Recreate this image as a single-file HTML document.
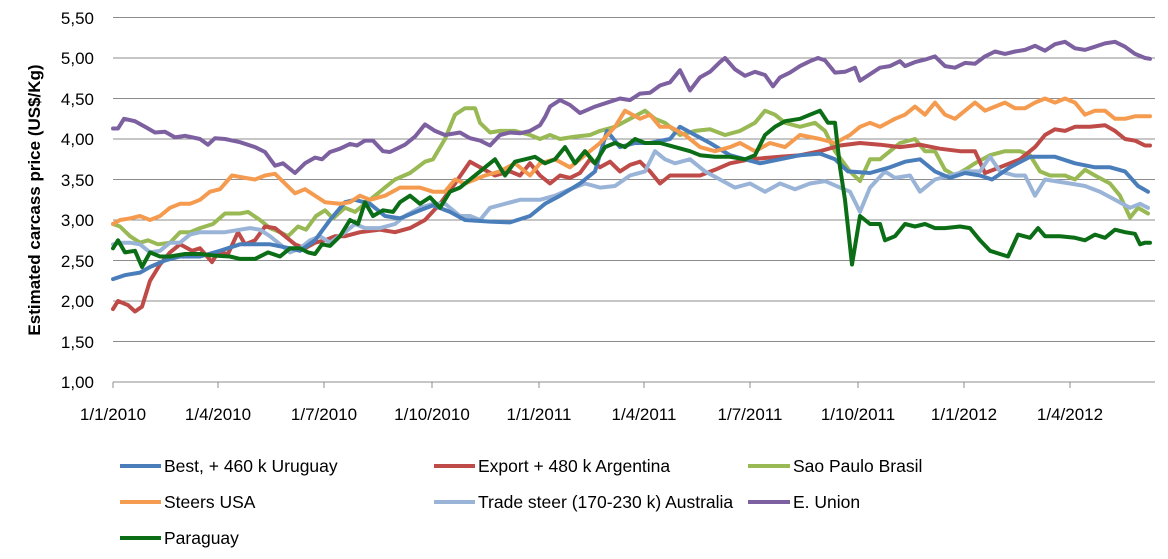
<!DOCTYPE html>
<html><head><meta charset="utf-8"><style>
body{margin:0;background:#fff;}
svg{display:block;font-family:"Liberation Sans",sans-serif;}
</style></head><body>
<svg id="c" width="1168" height="559" xmlns="http://www.w3.org/2000/svg">
<g stroke="#8c8c8c" stroke-width="1">
<line x1="113" y1="17.5" x2="1155" y2="17.5"/><line x1="113" y1="58" x2="1155" y2="58"/>
<line x1="113" y1="98.5" x2="1155" y2="98.5"/><line x1="113" y1="139" x2="1155" y2="139"/>
<line x1="113" y1="179.5" x2="1155" y2="179.5"/><line x1="113" y1="220" x2="1155" y2="220"/>
<line x1="113" y1="260.5" x2="1155" y2="260.5"/><line x1="113" y1="301" x2="1155" y2="301"/>
<line x1="113" y1="341.5" x2="1155" y2="341.5"/><line x1="113" y1="382" x2="1155" y2="382"/>
<line x1="113" y1="382" x2="113" y2="388"/><line x1="218" y1="382" x2="218" y2="388"/>
<line x1="324" y1="382" x2="324" y2="388"/><line x1="432" y1="382" x2="432" y2="388"/>
<line x1="539" y1="382" x2="539" y2="388"/><line x1="644" y1="382" x2="644" y2="388"/>
<line x1="750" y1="382" x2="750" y2="388"/><line x1="858" y1="382" x2="858" y2="388"/>
<line x1="964" y1="382" x2="964" y2="388"/><line x1="1070" y1="382" x2="1070" y2="388"/>
</g>
<g font-size="17" fill="#000" text-anchor="end">
<text x="94" y="24">5,50</text><text x="94" y="64">5,00</text><text x="94" y="105">4,50</text>
<text x="94" y="145">4,00</text><text x="94" y="186">3,50</text><text x="94" y="226">3,00</text>
<text x="94" y="267">2,50</text><text x="94" y="307">2,00</text><text x="94" y="348">1,50</text>
<text x="94" y="388">1,00</text>
</g>
<g font-size="17" fill="#000" text-anchor="middle">
<text x="113" y="420">1/1/2010</text><text x="218" y="420">1/4/2010</text><text x="324" y="420">1/7/2010</text>
<text x="432" y="420">1/10/2010</text><text x="539" y="420">1/1/2011</text><text x="644" y="420">1/4/2011</text>
<text x="750" y="420">1/7/2011</text><text x="858" y="420">1/10/2011</text><text x="964" y="420">1/1/2012</text>
<text x="1070" y="420">1/4/2012</text>
</g>
<text transform="translate(40,200) rotate(-90)" font-size="17" font-weight="bold" text-anchor="middle">Estimated carcass price (US$/Kg)</text>
<g id="series" fill="none" stroke-width="4" stroke-linejoin="round" stroke-linecap="round"></g>
<g font-size="17.5" fill="#000">
<line x1="120" y1="466" x2="161" y2="466" stroke="#4a7ebb" stroke-width="4"/><text x="164" y="472">Best, + 460 k Uruguay</text>
<line x1="434" y1="466" x2="475" y2="466" stroke="#be4b48" stroke-width="4"/><text x="478" y="472">Export + 480 k Argentina</text>
<line x1="748" y1="466" x2="790" y2="466" stroke="#98b954" stroke-width="4"/><text x="793" y="472">Sao Paulo Brasil</text>
<line x1="120" y1="502" x2="161" y2="502" stroke="#f59b4f" stroke-width="4"/><text x="164" y="508">Steers USA</text>
<line x1="434" y1="502" x2="475" y2="502" stroke="#9ab4d8" stroke-width="4"/><text x="478" y="508">Trade steer (170-230 k) Australia</text>
<line x1="748" y1="502" x2="790" y2="502" stroke="#7d60a0" stroke-width="4"/><text x="793" y="508">E. Union</text>
<line x1="120" y1="538" x2="161" y2="538" stroke="#0b6e16" stroke-width="4"/><text x="164" y="544">Paraguay</text>
</g>
</svg>
<script>
var S=[
["#98b954",[113,2.95,120,2.92,130,2.8,140,2.72,148,2.75,158,2.7,170,2.72,180,2.85,190,2.85,200,2.9,213,2.95,225,3.08,240,3.08,248,3.1,260,3.0,270,2.9,280,2.85,288,2.8,298,2.92,306,2.88,316,3.05,325,3.12,333,3.02,345,3.15,355,3.1,365,3.2,375,3.3,385,3.4,395,3.5,410,3.58,425,3.72,433,3.75,445,4.0,455,4.3,465,4.38,475,4.38,480,4.2,490,4.08,500,4.1,515,4.1,530,4.05,540,4.0,550,4.05,560,4.0,575,4.03,590,4.05,600,4.1,615,4.15,630,4.25,645,4.35,655,4.25,665,4.2,680,4.05,695,4.1,710,4.12,725,4.05,740,4.1,755,4.2,765,4.35,775,4.3,785,4.2,800,4.15,815,4.2,825,4.1,835,3.85,850,3.6,860,3.48,870,3.75,880,3.75,890,3.85,900,3.95,915,4.0,925,3.85,935,3.85,945,3.62,955,3.55,965,3.62,975,3.7,990,3.8,1005,3.85,1020,3.85,1030,3.8,1040,3.6,1050,3.55,1065,3.55,1075,3.5,1085,3.62,1095,3.55,1110,3.45,1120,3.3,1130,3.03,1138,3.15,1148,3.08]],
["#be4b48",[113,1.9,118,2.0,128,1.95,135,1.87,142,1.93,150,2.25,160,2.45,170,2.6,180,2.7,192,2.62,200,2.65,212,2.48,218,2.6,228,2.58,238,2.85,245,2.7,255,2.75,265,2.92,275,2.9,285,2.8,295,2.7,305,2.65,315,2.72,325,2.75,335,2.8,345,2.8,360,2.85,380,2.88,395,2.85,410,2.9,425,3.0,440,3.2,455,3.45,470,3.72,480,3.65,495,3.55,510,3.6,520,3.55,530,3.7,540,3.55,550,3.45,560,3.55,570,3.52,580,3.58,590,3.75,600,3.65,610,3.72,620,3.6,630,3.68,640,3.72,650,3.6,660,3.45,670,3.55,680,3.55,700,3.55,715,3.62,730,3.7,750,3.75,780,3.78,800,3.8,820,3.85,840,3.92,860,3.95,880,3.93,900,3.9,920,3.93,940,3.88,960,3.85,975,3.85,985,3.58,1000,3.65,1020,3.75,1035,3.9,1045,4.05,1055,4.12,1065,4.1,1075,4.15,1090,4.15,1105,4.17,1115,4.1,1125,4.0,1135,3.98,1145,3.92,1150,3.92]],
["#9ab4d8",[113,2.7,122,2.72,130,2.72,140,2.7,150,2.6,160,2.62,170,2.72,180,2.72,190,2.82,200,2.85,215,2.85,225,2.85,240,2.88,250,2.9,260,2.88,270,2.8,280,2.7,290,2.6,300,2.65,310,2.75,320,2.8,330,2.72,345,2.85,355,2.95,365,2.9,380,2.9,395,2.95,405,3.05,420,3.15,433,3.2,445,3.2,460,3.05,470,3.05,480,3.0,490,3.15,505,3.2,520,3.25,540,3.25,555,3.3,570,3.38,585,3.45,600,3.4,615,3.42,630,3.55,645,3.6,655,3.85,665,3.75,675,3.7,690,3.75,705,3.6,720,3.5,735,3.4,750,3.45,765,3.35,780,3.45,795,3.38,810,3.45,825,3.48,840,3.4,850,3.35,860,3.1,870,3.4,885,3.6,895,3.52,910,3.55,920,3.35,935,3.5,950,3.55,965,3.6,980,3.6,990,3.78,1000,3.6,1015,3.55,1025,3.55,1035,3.3,1045,3.5,1055,3.48,1070,3.45,1085,3.42,1100,3.35,1115,3.25,1130,3.15,1140,3.2,1148,3.15]],
["#4a7ebb",[113,2.27,125,2.32,140,2.35,150,2.42,165,2.5,180,2.55,200,2.55,220,2.62,240,2.7,270,2.7,290,2.65,300,2.62,315,2.75,330,3.0,345,3.22,355,3.25,370,3.2,385,3.05,400,3.02,420,3.12,433,3.18,450,3.1,465,3.0,490,2.98,510,2.97,530,3.05,545,3.2,560,3.3,580,3.45,595,3.6,607,4.1,620,3.9,635,3.95,650,3.95,670,4.0,680,4.15,695,4.05,710,3.95,730,3.8,745,3.75,760,3.7,780,3.75,800,3.8,820,3.82,835,3.75,848,3.6,870,3.58,890,3.65,905,3.72,920,3.75,935,3.6,950,3.52,965,3.58,980,3.55,992,3.5,1010,3.65,1030,3.78,1055,3.78,1075,3.7,1095,3.65,1110,3.65,1125,3.6,1138,3.42,1148,3.35]],
["#f59b4f",[113,2.95,120,3.0,130,3.02,140,3.05,150,3.0,160,3.05,170,3.15,180,3.2,190,3.2,200,3.25,210,3.35,220,3.38,232,3.55,245,3.52,255,3.5,265,3.55,275,3.57,285,3.45,295,3.33,305,3.38,315,3.3,325,3.22,340,3.2,350,3.22,360,3.3,370,3.25,385,3.3,400,3.4,420,3.4,433,3.35,445,3.35,455,3.5,465,3.45,475,3.5,485,3.55,500,3.6,515,3.7,530,3.55,540,3.7,555,3.75,570,3.65,585,3.8,600,3.95,615,4.15,625,4.35,640,4.25,650,4.3,660,4.15,670,4.15,685,4.05,700,3.9,715,3.85,730,3.9,740,3.95,755,3.85,770,3.95,785,3.9,800,4.05,820,4.0,835,3.95,850,4.05,860,4.15,870,4.2,880,4.15,895,4.25,905,4.3,915,4.4,925,4.3,935,4.45,945,4.3,955,4.25,965,4.35,975,4.45,985,4.35,995,4.4,1005,4.45,1015,4.38,1025,4.38,1035,4.45,1045,4.5,1055,4.45,1065,4.5,1075,4.45,1085,4.3,1095,4.35,1105,4.35,1115,4.25,1125,4.25,1135,4.28,1150,4.28]],
["#7d60a0",[113,4.13,118,4.13,124,4.25,135,4.22,145,4.15,155,4.08,165,4.09,175,4.02,185,4.04,200,4.0,208,3.93,215,4.01,225,4.0,240,3.96,255,3.9,265,3.84,275,3.67,283,3.7,295,3.58,305,3.7,315,3.77,322,3.75,330,3.84,340,3.88,350,3.94,357,3.92,365,3.98,373,3.98,383,3.85,390,3.84,405,3.93,415,4.03,425,4.18,435,4.1,445,4.05,460,4.08,470,4.01,480,3.98,490,3.92,500,4.05,510,4.08,520,4.07,530,4.1,540,4.17,545,4.27,550,4.4,560,4.48,570,4.42,580,4.32,595,4.4,610,4.46,620,4.5,630,4.48,640,4.56,650,4.57,660,4.66,670,4.7,680,4.85,690,4.6,700,4.76,710,4.83,720,4.95,725,5.0,735,4.86,745,4.78,755,4.83,765,4.79,773,4.65,780,4.76,790,4.82,800,4.9,810,4.96,818,5.0,825,4.97,835,4.82,845,4.83,855,4.88,860,4.72,870,4.8,880,4.88,890,4.9,900,4.96,905,4.9,915,4.95,925,4.98,935,5.02,945,4.9,955,4.88,965,4.94,975,4.93,985,5.02,995,5.08,1005,5.05,1015,5.08,1025,5.1,1035,5.15,1045,5.09,1055,5.17,1065,5.2,1075,5.12,1085,5.1,1095,5.14,1105,5.18,1115,5.2,1125,5.14,1135,5.05,1145,5.0,1150,4.99]],
["#0b6e16",[113,2.65,118,2.75,125,2.6,135,2.62,142,2.42,150,2.6,160,2.55,170,2.55,185,2.58,200,2.58,215,2.56,230,2.55,240,2.52,255,2.52,268,2.6,280,2.55,290,2.65,300,2.65,308,2.6,315,2.58,322,2.7,330,2.68,340,2.8,350,3.0,358,2.95,365,3.22,373,3.05,383,3.12,393,3.1,400,3.22,410,3.3,420,3.2,430,3.28,440,3.15,450,3.35,460,3.4,470,3.5,480,3.6,490,3.7,495,3.75,505,3.55,515,3.72,525,3.75,535,3.78,545,3.7,555,3.75,565,3.9,575,3.7,585,3.85,595,3.7,605,3.9,615,3.95,625,3.9,635,4.0,645,3.95,660,3.95,675,3.9,690,3.85,700,3.8,715,3.78,730,3.78,745,3.75,755,3.8,765,4.05,775,4.15,785,4.22,800,4.25,810,4.3,820,4.35,828,4.2,835,4.2,840,3.65,845,3.25,852,2.45,860,3.05,870,2.95,880,2.95,885,2.75,895,2.8,905,2.95,915,2.92,925,2.95,935,2.9,945,2.9,960,2.92,970,2.9,980,2.75,990,2.62,1000,2.58,1008,2.55,1018,2.82,1030,2.78,1038,2.9,1045,2.8,1060,2.8,1075,2.78,1085,2.75,1095,2.82,1105,2.78,1115,2.88,1125,2.85,1135,2.83,1140,2.7,1145,2.72,1150,2.72]]
];
var g=document.getElementById("series"),ns="http://www.w3.org/2000/svg";
S.forEach(function(s){var a=s[1],p=[];for(var i=0;i<a.length;i+=2)p.push(a[i]+","+(382-(a[i+1]-1)*81).toFixed(1));
var l=document.createElementNS(ns,"polyline");l.setAttribute("points",p.join(" "));l.setAttribute("stroke",s[0]);g.appendChild(l);});
</script>
</body></html>
